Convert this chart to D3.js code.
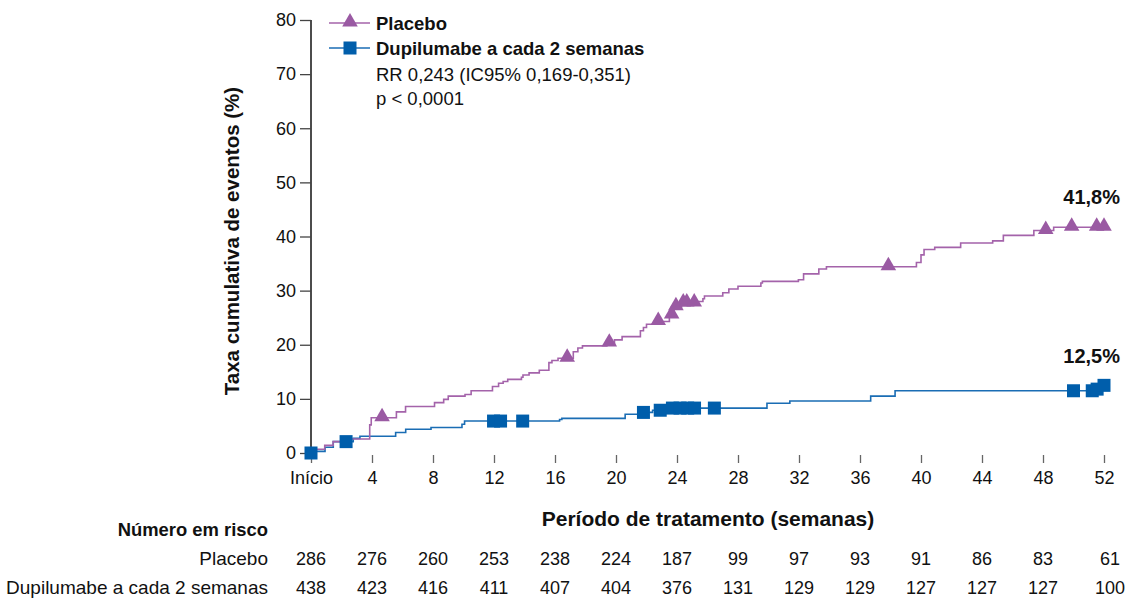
<!DOCTYPE html>
<html>
<head>
<meta charset="utf-8">
<script src="https://cdnjs.cloudflare.com/ajax/libs/d3/7.8.5/d3.min.js"></script>
<style>
  body { margin: 0; background: #fff; }
  svg text { font-family: "Liberation Sans", Arial, Helvetica, sans-serif; fill: #111; }
</style>
</head>
<body>
<svg width="1129" height="600"></svg>
<script>
// step points: week at which the curve jumps, and the new cumulative rate (%)
const placeboWeeks = [0, 0.3, 0.9, 1.45, 2.2, 3.85, 3.95, 5.6, 6.2, 8.1, 8.7, 9.0, 10.1, 10.5, 11.9, 12.3, 12.6, 12.9,
  13.8, 13.9, 14.3, 14.97, 15.6, 15.8, 16.2, 17.2, 17.5, 17.8, 19.4, 19.9, 20.4, 21.6, 21.8, 22.0, 22.6, 23.5, 23.8,
  24.3, 25.4, 25.7, 25.8, 27.0, 27.4, 28.0, 29.5, 29.6, 31.96, 32.3, 33.3, 33.8, 39.7, 40.0, 40.2, 40.9, 42.6, 44.7,
  45.4, 47.4, 48.7, 52.05];
const placeboRate = [0, 0.7, 1.4, 2.1, 2.6, 5.2, 6.5, 7.6, 8.6, 9.3, 9.9, 10.5, 10.8, 11.5, 12.3, 12.9, 13.2, 13.6,
  14.0, 14.4, 14.8, 15.3, 16.7, 17.1, 17.5, 18.7, 19.4, 19.8, 20.3, 20.9, 21.5, 22.6, 23.2, 23.8, 24.3, 25.5, 27.0,
  27.7, 28.0, 28.5, 29.0, 29.6, 30.3, 30.8, 31.4, 31.7, 32.0, 33.1, 34.0, 34.4, 35.2, 36.6, 37.6, 38.0, 38.8, 39.2,
  40.2, 41.1, 41.7, 41.8];
const placeboCensor = [4.66, 16.8, 19.56, 22.77, 23.65, 23.93, 24.41, 24.64, 25.13, 37.86, 48.18, 49.88, 51.52, 52.0];

const dupiWeeks = [0, 0.1, 0.92, 1.46, 2.77, 3.21, 5.55, 6.21, 7.87, 9.9, 10.07, 16.3, 16.45, 20.6, 21.5, 22.4, 23.3,
  29.9, 31.4, 36.7, 38.3, 51.4, 51.7, 52.05];
const dupiRate = [0, 0.3, 1.05, 2.1, 2.7, 3.1, 3.8, 4.4, 4.7, 5.3, 5.9, 6.2, 6.4, 7.15, 7.5, 7.9, 8.3,
  9.2, 9.6, 10.5, 11.5, 11.8, 12.5, 12.5];
const dupiCensor = [0, 2.3, 11.97, 12.43, 13.88, 21.8, 22.9, 23.7, 24.2, 24.7, 25.15, 26.45, 50.0, 51.23, 51.55, 52.0];

const xTicks = [0, 4, 8, 12, 16, 20, 24, 28, 32, 36, 40, 44, 48, 52];
const xTickLabels = ["Início", "4", "8", "12", "16", "20", "24", "28", "32", "36", "40", "44", "48", "52"];
const yTicks = [0, 10, 20, 30, 40, 50, 60, 70, 80];

const riskPlacebo = [286, 276, 260, 253, 238, 224, 187, 99, 97, 93, 91, 86, 83, 61];
const riskDupi = [438, 423, 416, 411, 407, 404, 376, 131, 129, 129, 127, 127, 127, 100];

const purple = "#9a5aa3",
      purpleLine = "#a463aa",
      blue = "#005eab",
      blueLine = "#1a6db4";

var svg = d3.select("svg");

var x = d3.scaleLinear().domain([0, 52]).range([311, 1104]);
var y = d3.scaleLinear().domain([0, 80]).range([453, 20]);

// y axis
var yAxis = svg.append("g")
               .attr("transform", "translate(311,0)")
               .call(d3.axisLeft(y).tickValues(yTicks).tickSize(11).tickPadding(4));
yAxis.select(".domain").attr("d", "M0," + y(80) + "V" + (y(0) + 2)).attr("stroke", "#111").attr("stroke-width", 1.5);
yAxis.selectAll(".tick line").attr("stroke", "#444").attr("stroke-width", 1.3);
yAxis.selectAll("text").style("font-size", "18px").attr("fill", "#111");

// x axis (ticks only)
var xAxis = svg.append("g")
               .attr("transform", "translate(0,455)")
               .call(d3.axisBottom(x).tickValues(xTicks).tickSize(8).tickPadding(8)
                       .tickFormat((d, i) => xTickLabels[i]));
xAxis.select(".domain").remove();
xAxis.selectAll(".tick line").attr("stroke", "#666").attr("stroke-width", 1.3);
xAxis.selectAll("text").style("font-size", "18px").attr("fill", "#111");

// axis titles
svg.append("text")
   .attr("transform", "translate(239,241) rotate(-90)")
   .attr("text-anchor", "middle")
   .style("font-size", "20.5px").style("font-weight", "bold")
   .text("Taxa cumulativa de eventos (%)");

svg.append("text")
   .attr("x", 708).attr("y", 526)
   .attr("text-anchor", "middle")
   .style("font-size", "21px").style("font-weight", "bold")
   .text("Período de tratamento (semanas)");

// curves
var line = d3.line()
             .x(d => x(d[0]))
             .y(d => y(d[1]))
             .curve(d3.curveStepAfter);

var placebo = placeboWeeks.map((w, i) => [w, placeboRate[i]]);
var dupi = dupiWeeks.map((w, i) => [w, dupiRate[i]]);

function valueAt(weeks, rates, w) {
  var i = d3.bisectRight(weeks, w) - 1;
  return rates[Math.max(0, i)];
}

svg.append("path")
   .datum(dupi)
   .attr("fill", "none")
   .attr("stroke", blueLine)
   .attr("stroke-width", 1.6)
   .attr("d", line);

svg.append("path")
   .datum(placebo)
   .attr("fill", "none")
   .attr("stroke", purpleLine)
   .attr("stroke-width", 1.6)
   .attr("d", line);

var tri = d3.symbol().type(d3.symbolTriangle).size(105);
var sq = 13;

svg.append("g")
   .selectAll("path")
   .data(placeboCensor)
   .enter().append("path")
   .attr("d", tri)
   .attr("fill", purple)
   .attr("transform", d => "translate(" + x(d) + "," + (y(valueAt(placeboWeeks, placeboRate, d)) - 1) + ")");

svg.append("g")
   .selectAll("rect")
   .data(dupiCensor)
   .enter().append("rect")
   .attr("x", d => x(d) - sq / 2)
   .attr("y", d => y(valueAt(dupiWeeks, dupiRate, d)) - sq / 2)
   .attr("width", sq)
   .attr("height", sq)
   .attr("fill", blue);

// end labels
svg.append("text")
   .attr("x", 1120).attr("y", 204)
   .attr("text-anchor", "end")
   .style("font-size", "20px").style("font-weight", "bold")
   .text("41,8%");

svg.append("text")
   .attr("x", 1120).attr("y", 363)
   .attr("text-anchor", "end")
   .style("font-size", "20px").style("font-weight", "bold")
   .text("12,5%");

// legend
var legend = svg.append("g");
var legendRows = [
  {label: "Placebo", y: 23, color: purpleLine, mark: purple, shape: "tri"},
  {label: "Dupilumabe a cada 2 semanas", y: 48, color: blueLine, mark: blue, shape: "sq"}
];
legendRows.forEach(r => {
  legend.append("line")
        .attr("x1", 329).attr("x2", 370)
        .attr("y1", r.y).attr("y2", r.y)
        .attr("stroke", r.color).attr("stroke-width", 1.6);
  if (r.shape == "tri") {
    legend.append("path").attr("d", tri).attr("fill", r.mark)
          .attr("transform", "translate(350," + (r.y - 1) + ")");
  } else {
    legend.append("rect").attr("x", 350 - sq / 2).attr("y", r.y - sq / 2)
          .attr("width", sq).attr("height", sq).attr("fill", r.mark);
  }
  legend.append("text")
        .attr("x", 376).attr("y", r.y + 6.5)
        .style("font-size", "18.5px").style("font-weight", "bold")
        .text(r.label);
});
legend.append("text").attr("x", 376).attr("y", 81)
      .style("font-size", "18.5px").text("RR 0,243 (IC95% 0,169-0,351)");
legend.append("text").attr("x", 376).attr("y", 105)
      .style("font-size", "18.5px").text("p < 0,0001");

// risk table
svg.append("text")
   .attr("x", 268).attr("y", 536)
   .attr("text-anchor", "end")
   .style("font-size", "18.4px").style("font-weight", "bold")
   .text("Número em risco");

var riskRows = [
  {label: "Placebo", values: riskPlacebo, y: 565},
  {label: "Dupilumabe a cada 2 semanas", values: riskDupi, y: 594}
];
riskRows.forEach(r => {
  svg.append("text")
     .attr("x", 268).attr("y", r.y)
     .attr("text-anchor", "end")
     .style("font-size", "19px")
     .text(r.label);
  svg.append("g")
     .selectAll("text")
     .data(r.values)
     .enter().append("text")
     .attr("x", (d, i) => x(xTicks[i]) + (i == xTicks.length - 1 ? 6 : 0))
     .attr("y", r.y)
     .attr("text-anchor", "middle")
     .style("font-size", "18px")
     .text(d => d);
});
</script>
</body>
</html>
